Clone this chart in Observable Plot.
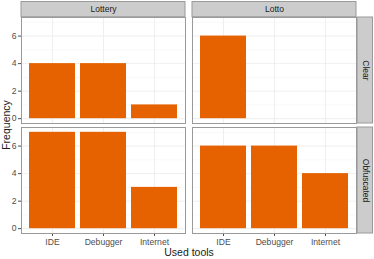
<!DOCTYPE html>
<html>
<head>
<meta charset="utf-8">
<script src="https://cdn.jsdelivr.net/npm/d3@7"></script>
<script src="https://cdn.jsdelivr.net/npm/@observablehq/plot@0.6"></script>
<style>
  body { margin: 0; background: #fff; }
  svg { font-family: "Liberation Sans", Arial, sans-serif; }
</style>
</head>
<body>
<div id="chart"></div>
<script>
const tools = ["IDE", "Debugger", "Internet"];
const programs = ["Lottery", "Lotto"];
const versions = ["Clear", "Obfuscated"];
const lotteryClear = [4, 4, 1];
const lottoClear = [6, 0, 0];
const lotteryObfuscated = [7, 7, 3];
const lottoObfuscated = [6, 6, 4];
const yTicks = [0, 2, 4, 6];
const yMinor = [1, 3, 5, 7];

const series = [
  ["Lottery", "Clear", lotteryClear],
  ["Lotto", "Clear", lottoClear],
  ["Lottery", "Obfuscated", lotteryObfuscated],
  ["Lotto", "Obfuscated", lottoObfuscated]
];
const data = series.flatMap(([program, version, vals]) =>
  tools.map((tool, i) => ({program, version, tool, value: vals[i]})));

const W = 374, H = 259;
const mL = 21, mR = 17, mT = 16, mB = 26, pad = 0.04;
const bwX = (W - mL - mR) / (2 - pad) * (1 - pad);
const bwY = (H - mT - mB) / (2 - pad) * (1 - pad);

const topStrips = programs.map(p => ({program: p, version: versions[0]}));
const rightStrips = versions.map(v => ({program: programs[1], version: v}));
const anchorCell = [{program: programs[0], version: versions[1]}];

const chart = Plot.plot({
  width: W,
  height: H,
  marginLeft: mL,
  marginRight: mR,
  marginTop: mT,
  marginBottom: mB,
  style: {fontSize: "8.6px", fontFamily: "Liberation Sans, Arial, sans-serif", background: "#fff", color: "#4d4d4d"},
  fx: {domain: programs, paddingInner: pad, paddingOuter: 0, axis: null},
  fy: {domain: versions, paddingInner: pad, paddingOuter: 0, axis: null},
  x: {domain: tools, paddingInner: 0.1, paddingOuter: 0.15, label: null, tickSize: 3, tickPadding: 2},
  y: {domain: [-0.35, 7.35], ticks: yTicks, label: null, tickSize: 3, tickPadding: 2},
  marks: [
    Plot.ruleY(yMinor, {stroke: "#f4f4f4", strokeWidth: 0.6}),
    Plot.ruleY(yTicks, {stroke: "#ebebeb", strokeWidth: 0.8}),
    Plot.ruleX(tools, {stroke: "#ebebeb", strokeWidth: 0.8}),
    Plot.barY(data, {x: "tool", y: "value", fx: "program", fy: "version", fill: "#e66100"}),
    Plot.frame({stroke: "#9a9a9a", strokeWidth: 1}),
    Plot.rect(topStrips, {fx: "program", fy: "version", fill: "#cccccc", stroke: "#9a9a9a",
      insetTop: -mT + 0.5, insetBottom: bwY}),
    Plot.text(topStrips, {fx: "program", fy: "version", text: "program", frameAnchor: "top",
      dy: -8, lineAnchor: "middle", fill: "#1a1a1a", fontSize: 8.5}),
    Plot.rect(rightStrips, {fx: "program", fy: "version", fill: "#cccccc", stroke: "#9a9a9a",
      insetLeft: bwX + 0.5, insetRight: -mR + 0.5}),
    Plot.text(rightStrips, {fx: "program", fy: "version", text: "version", frameAnchor: "right",
      dx: 9, rotate: 90, textAnchor: "middle", lineAnchor: "middle", fill: "#1a1a1a", fontSize: 8.5}),
    Plot.text(anchorCell, {fx: "program", fy: "version",
      text: () => "Frequency", frameAnchor: "top-left", dx: -15, dy: -2.5, rotate: -90,
      textAnchor: "middle", lineAnchor: "middle", fill: "#1a1a1a", fontSize: 10.5}),
    Plot.text(anchorCell, {fx: "program", fy: "version",
      text: () => "Used tools", frameAnchor: "bottom-right", dx: 3.5, dy: 19.5,
      textAnchor: "middle", lineAnchor: "middle", fill: "#1a1a1a", fontSize: 10.5})
  ]
});
document.getElementById("chart").appendChild(chart);
</script>
</body>
</html>
